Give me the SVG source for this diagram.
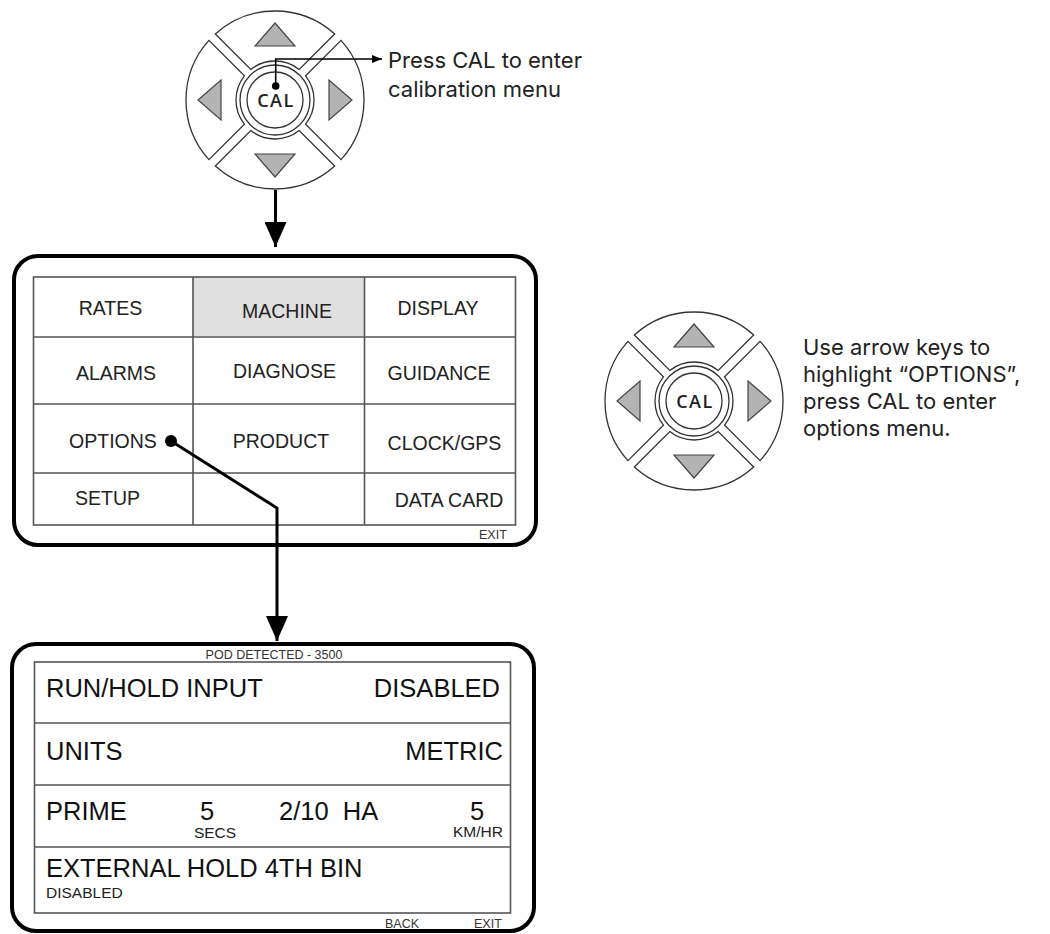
<svg xmlns="http://www.w3.org/2000/svg" xmlns:xlink="http://www.w3.org/1999/xlink" width="1050" height="934" viewBox="0 0 1050 934">
<style>
.seg{fill:#fff;stroke:#333;stroke-width:1.3}
.tri{fill:#b3b3b3;stroke:#444;stroke-width:1.2}
.ring{fill:#fff;stroke:#333;stroke-width:1.3}
.cal{font-family:"Open Sans","Noto Sans",sans-serif;font-weight:600;font-size:18px;letter-spacing:1.5px;fill:#222;text-anchor:middle}
.note{font-family:Inter,"Open Sans",sans-serif;font-size:22px;fill:#222}
.frame{fill:#fff;stroke:#000;stroke-width:4}
.grid{fill:none;stroke:#555;stroke-width:1.6}
.m{font-family:"Liberation Sans",Arial,sans-serif;font-size:19.5px;fill:#222;text-anchor:middle}
.big{font-family:"Liberation Sans",Arial,sans-serif;font-size:25.5px;fill:#111}
.sm{font-family:"Liberation Sans",Arial,sans-serif;font-size:15.5px;fill:#222}
.tiny{font-family:"Liberation Sans",Arial,sans-serif;font-size:12.5px;fill:#333}
.conn{fill:none;stroke:#000;stroke-width:3}
.thin{fill:none;stroke:#000;stroke-width:1.6}
</style>
<defs>
<marker id="ah" viewBox="0 0 25 22" refX="25" refY="11" markerWidth="25" markerHeight="22" markerUnits="userSpaceOnUse" orient="auto"><path d="M0,0 L25,11 L0,22 Z" fill="#000"/></marker>
<marker id="ahs" viewBox="0 0 10 8" refX="10" refY="4" markerWidth="10" markerHeight="8" markerUnits="userSpaceOnUse" orient="auto"><path d="M0,0 L10,4 L0,8 Z" fill="#000"/></marker>
<g id="keypad">
<path id="segp" class="seg" d="M -59.67,-66.03 A 89 89 0 0 1 59.67,-66.03 L 24.21,-30.58 A 39 39 0 0 0 -24.21,-30.58 Z"/>
<use xlink:href="#segp" href="#segp" transform="rotate(90)"/>
<use xlink:href="#segp" href="#segp" transform="rotate(180)"/>
<use xlink:href="#segp" href="#segp" transform="rotate(270)"/>
<path class="tri" d="M 0,-77 L 20,-54 L -20,-54 Z"/>
<path class="tri" d="M 0,77 L 20,54 L -20,54 Z"/>
<path class="tri" d="M -77,0 L -54,-20 L -54,20 Z"/>
<path class="tri" d="M 77,0 L 54,-20 L 54,20 Z"/>
<circle class="ring" r="35"/>
<circle class="ring" r="28"/>
<text class="cal" x="1" y="7">CAL</text>
</g>
</defs>

<g id="keypad-top">
<use xlink:href="#keypad" href="#keypad" transform="translate(275,100)"/>
<text class="note" x="388" y="68">Press CAL to enter</text>
<text class="note" x="388" y="97">calibration menu</text>
</g>

<g id="keypad-right">
<use xlink:href="#keypad" href="#keypad" transform="translate(694,401)"/>
<text class="note" x="803" y="355">Use arrow keys to</text>
<text class="note" x="803" y="382">highlight “OPTIONS”,</text>
<text class="note" x="803" y="409">press CAL to enter</text>
<text class="note" x="803" y="436">options menu.</text>
</g>

<g id="menu-calibration">
<rect class="frame" x="14" y="256" width="522" height="289" rx="24"/>
<rect x="193" y="277" width="172" height="59" fill="#e0e0e0"/>
<rect class="grid" x="33.5" y="277" width="482" height="248"/>
<path class="grid" d="M33.5,337 H515.5 M33.5,404 H515.5 M33.5,473 H515.5 M193,277 V525 M364.5,277 V525"/>
<text class="m" x="110.5" y="315">RATES</text>
<text class="m" x="287" y="318">MACHINE</text>
<text class="m" x="438" y="315">DISPLAY</text>
<text class="m" x="116" y="380">ALARMS</text>
<text class="m" x="284.5" y="378">DIAGNOSE</text>
<text class="m" x="439" y="380">GUIDANCE</text>
<text class="m" x="113" y="448">OPTIONS</text>
<text class="m" x="281" y="448">PRODUCT</text>
<text class="m" x="444.5" y="450">CLOCK/GPS</text>
<text class="m" x="107.5" y="505">SETUP</text>
<text class="m" x="449" y="507">DATA CARD</text>
<text class="tiny" x="479" y="539">EXIT</text>
</g>

<g id="menu-options">
<rect class="frame" x="12" y="644" width="522" height="287" rx="24"/>
<rect class="grid" x="34.5" y="662" width="476" height="251"/>
<path class="grid" d="M34.5,723 H510.5 M34.5,785 H510.5 M34.5,847 H510.5"/>
<text class="tiny" x="274" y="659" text-anchor="middle">POD DETECTED - 3500</text>
<text class="big" x="46" y="697">RUN/HOLD INPUT</text>
<text class="big" x="500" y="697" text-anchor="end">DISABLED</text>
<text class="big" x="46" y="760">UNITS</text>
<text class="big" x="503" y="760" text-anchor="end">METRIC</text>
<text class="big" x="46" y="820">PRIME</text>
<text class="big" x="207" y="820" text-anchor="middle">5</text>
<text class="sm" x="215" y="838" text-anchor="middle">SECS</text>
<text class="big" x="279" y="820" xml:space="preserve">2/10  HA</text>
<text class="big" x="477" y="820" text-anchor="middle">5</text>
<text class="sm" x="478" y="837" text-anchor="middle">KM/HR</text>
<text class="big" x="46" y="877">EXTERNAL HOLD 4TH BIN</text>
<text class="sm" x="46" y="898">DISABLED</text>
<text class="tiny" x="385" y="928">BACK</text>
<text class="tiny" x="474" y="928">EXIT</text>
</g>

<g id="connectors">
<circle cx="275.7" cy="86" r="3.8" fill="#000"/>
<path class="thin" d="M275.7,86 V59 H382" marker-end="url(#ahs)"/>
<path class="conn" d="M275.5,190 V247" marker-end="url(#ah)"/>
<circle cx="171" cy="441" r="6" fill="#000"/>
<path class="conn" d="M171,441 L277,508 V641" marker-end="url(#ah)"/>
</g>
</svg>
